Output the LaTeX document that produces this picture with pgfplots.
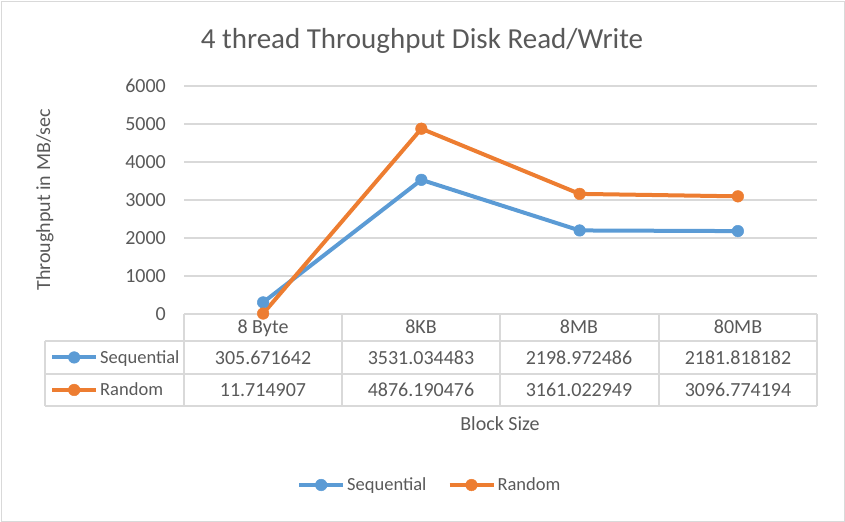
\documentclass[border=0pt]{standalone}
\usepackage{pgfplots}
\pgfplotsset{compat=1.18}
\usepackage{pgfplotstable}
\usepackage{fontspec}
\setmainfont{Carlito}
\definecolor{seqc}{HTML}{5B9BD5}
\definecolor{rndc}{HTML}{ED7D31}
\definecolor{txt}{HTML}{595959}
\definecolor{grd}{HTML}{D9D9D9}

\pgfplotstableread{
x seq rnd
0 305.671642 11.714907
1 3531.034483 4876.190476
2 2198.972486 3161.022949
3 2181.818182 3096.774194
}\datatable

\newcommand{\fs}{\fontsize{20bp}{24bp}\selectfont}
\newcommand{\fl}{\fontsize{18.5bp}{22bp}\selectfont}
\newcommand{\ft}{\fontsize{29bp}{33bp}\selectfont}

\begin{document}
\begin{tikzpicture}
\useasboundingbox (0,0) rectangle (845bp,-522bp);
\draw[grd, line width=1bp] (1bp,-1bp) rectangle (844bp,-521bp);
% table lines
\begin{scope}[x=1bp,y=-1bp, grd, line width=1.2bp]
\draw (45,341) -- (817,341);
\draw (45,374) -- (817,374);
\draw (45,406) -- (817,406);
\draw (45,341) -- (45,406);
\foreach \xx in {184,342,500,659,817} {\draw (\xx,314) -- (\xx,406);}
\end{scope}
\begin{axis}[
  at={(184bp,-314bp)}, anchor=south west,
  width=633bp, height=228bp, scale only axis,
  xmin=-0.5, xmax=3.5, ymin=0, ymax=6000,
  ytick={0,1000,...,6000}, xtick=\empty,
  axis line style={draw=none},
  ymajorgrids, grid style={grd, line width=1.2bp},
  major tick length=0pt,
  /pgf/number format/assume math mode=true,
  /pgf/number format/1000 sep={},
  scaled y ticks=false,
  yticklabel style={txt, font=\fs, inner sep=0pt, anchor=east, xshift=-18bp},
  clip=false,
  legend columns=2,
  legend cell align=left,
  legend style={at={(0.1785,-0.75)}, anchor=west, draw=none, fill=none,
    inner sep=0pt, font=\fl, text=txt,
    nodes={inner sep=0pt, text height=14bp, text depth=3bp},
    /tikz/every odd column/.append style={column sep=2bp},
    /tikz/every even column/.append style={column sep=21bp}},
  legend image code/.code={\draw[mark repeat=2,mark phase=2] plot coordinates {(0bp,0bp) (22bp,0bp) (44bp,0bp)};},
]
\addplot[seqc, line width=4bp, mark=*, mark size=5.8bp, mark options={solid, fill=seqc, draw=seqc, line width=0.5bp}] table[x=x,y=seq]{\datatable};
\addlegendentry{Sequential}
\addplot[rndc, line width=4bp, mark=*, mark size=5.8bp, mark options={solid, fill=rndc, draw=rndc, line width=0.5bp}] table[x=x,y=rnd]{\datatable};
\addlegendentry{Random}
\end{axis}
\begin{axis}[
  at={(184bp,-314bp)}, anchor=south west,
  width=633bp, height=228bp, scale only axis, hide axis,
  xmin=-0.5, xmax=3.5, ymin=0, ymax=6000,
  legend columns=1,
  legend cell align=left,
  legend style={at={(-0.2117,-0.1184)}, anchor=north west, draw=none, fill=none,
    inner sep=0pt, font=\fl, text=txt, row sep=0pt,
    nodes={inner sep=0pt, text height=22bp, text depth=10.5bp},
    /tikz/every odd column/.append style={column sep=2bp}},
  legend image code/.code={\draw[mark repeat=2,mark phase=2] plot coordinates {(0bp,0bp) (22bp,0bp) (44bp,0bp)};},
]
\addlegendimage{seqc, line width=4bp, mark=*, mark size=5.8bp, mark options={solid, fill=seqc, draw=seqc, line width=0.5bp}}
\addlegendentry{Sequential}
\addlegendimage{rndc, line width=4bp, mark=*, mark size=5.8bp, mark options={solid, fill=rndc, draw=rndc, line width=0.5bp}}
\addlegendentry{Random}
\end{axis}
\begin{scope}[x=1bp,y=-1bp, font=\fs, text=txt]
\node[font=\ft, anchor=base] at (422,48) {4 thread Throughput Disk Read/Write};
\node[rotate=90] at (45,200) {Throughput in MB/sec};
\node[anchor=base] at (500,430) {Block Size};
\node[anchor=base] at (263,333.5) {8 Byte};
\node[anchor=base] at (421,333.5) {8KB};
\node[anchor=base] at (579,333.5) {8MB};
\node[anchor=base] at (738,333.5) {80MB};
\node[anchor=base] at (263,364) {305.671642};
\node[anchor=base] at (421,364) {3531.034483};
\node[anchor=base] at (579,364) {2198.972486};
\node[anchor=base] at (738,364) {2181.818182};
\node[anchor=base] at (263,396) {11.714907};
\node[anchor=base] at (421,396) {4876.190476};
\node[anchor=base] at (579,396) {3161.022949};
\node[anchor=base] at (738,396) {3096.774194};
\end{scope}
\end{tikzpicture}
\end{document}
